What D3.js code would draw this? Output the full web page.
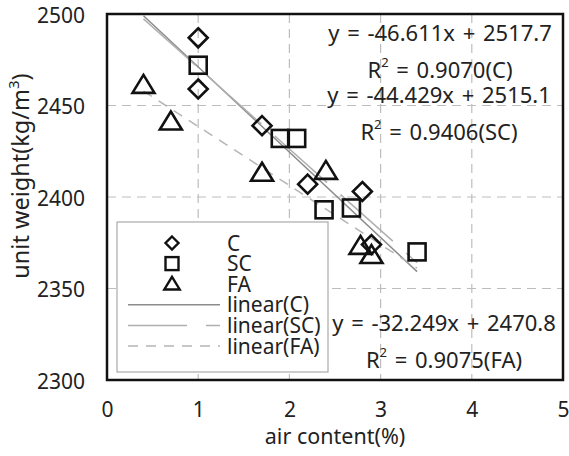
<!DOCTYPE html>
<html>
<head>
<meta charset="utf-8">
<script src="https://cdn.jsdelivr.net/npm/d3@7"></script>
<style>
  html, body { margin: 0; padding: 0; background: #fff; }
  svg text { font-family: "Noto Sans", "Open Sans", sans-serif; fill: #222; }
</style>
</head>
<body>
<svg id="chart" width="569" height="456"></svg>
<script>
// Air content (%) vs unit weight (kg/m3) for three mixes
const cAir  = [1.0, 1.0, 1.7, 2.2, 2.8, 2.9];
const cUW   = [2487, 2459, 2439, 2407, 2403, 2374];
const scAir = [1.0, 1.9, 2.08, 2.38, 2.68, 3.4];
const scUW  = [2472, 2432, 2432, 2393, 2394, 2370];
const faAir = [0.4, 0.7, 1.7, 2.4, 2.78, 2.9];
const faUW  = [2461, 2441, 2413, 2414, 2373, 2368];

// Linear fits: slope, intercept, R²
const fitC  = { slope: -46.611, intercept: 2517.7, r2: "0.9070", tag: "C" };
const fitSC = { slope: -44.429, intercept: 2515.1, r2: "0.9406", tag: "SC" };
const fitFA = { slope: -32.249, intercept: 2470.8, r2: "0.9075", tag: "FA" };
const fitRange = [0.4, 3.4];

const xTicks = [0, 1, 2, 3, 4, 5];
const yTicks = [2300, 2350, 2400, 2450, 2500];

const FONT = '"Noto Sans", "Open Sans", sans-serif';
const svg = d3.select("#chart");
const x = d3.scaleLinear().domain([0, 5]).range([107, 563]);
const y = d3.scaleLinear().domain([2300, 2500]).range([380, 14]);

// dashed grid
const grid = svg.append("g").attr("stroke", "#bdbdbd").attr("stroke-width", 1.2)
  .attr("stroke-dasharray", "9,6");
xTicks.slice(1, -1).forEach(t => grid.append("line")
  .attr("x1", x(t)).attr("x2", x(t)).attr("y1", y(2500)).attr("y2", y(2300)));
yTicks.slice(1, -1).forEach(t => grid.append("line")
  .attr("x1", x(0)).attr("x2", x(5)).attr("y1", y(t)).attr("y2", y(t)));

// axis labels via d3 axes (no tick marks)
const xAxis = svg.append("g").attr("transform", `translate(0,${y(2300)})`)
  .call(d3.axisBottom(x).tickValues(xTicks).tickSize(0).tickPadding(22).tickFormat(d3.format("d")));
const yAxis = svg.append("g").attr("transform", `translate(${x(0)},0)`)
  .call(d3.axisLeft(y).tickValues(yTicks).tickSize(0).tickPadding(22).tickFormat(d3.format("d")));
[xAxis, yAxis].forEach(a => {
  a.select(".domain").remove();
  a.selectAll("text").attr("font-size", 21).attr("fill", "#222").attr("font-family", FONT);
});
yAxis.selectAll("text").attr("dy", "0.40em");

svg.append("text").attr("x", 335).attr("y", 444).attr("text-anchor", "middle")
  .attr("font-size", 21.5).text("air content(%)");
const yt = svg.append("text").attr("transform", "translate(29,176) rotate(-90)")
  .attr("text-anchor", "middle").attr("font-size", 23.5);
yt.append("tspan").text("unit weight(kg/m");
yt.append("tspan").attr("font-size", 15).attr("dy", -10).text("3");
yt.append("tspan").attr("dy", 10).text(")");

// trend lines
const trend = [
  { fit: fitC,  stroke: "#8c8c8c", dash: null, lgDash: null },
  { fit: fitSC, stroke: "#b0b0b0", dash: "70,18", lgDash: "59,19" },
  { fit: fitFA, stroke: "#b5b5b5", dash: "10,8", lgDash: "10,8" }
];
const lineGen = d3.line().x(d => x(d[0])).y(d => y(d[1]));
trend.forEach(t => {
  const pts = fitRange.map(v => [v, t.fit.slope * v + t.fit.intercept]);
  svg.append("path").attr("d", lineGen(pts)).attr("fill", "none")
    .attr("stroke", t.stroke).attr("stroke-width", 1.5)
    .attr("stroke-dasharray", t.dash);
});

// hollow markers
function drawMarker(g, kind, cx, cy, s) {
  if (kind === "diamond") {
    g.append("path").attr("d", `M${cx},${cy - s}L${cx + s},${cy}L${cx},${cy + s}L${cx - s},${cy}Z`);
  } else if (kind === "square") {
    g.append("rect").attr("x", cx - s).attr("y", cy - s).attr("width", 2 * s).attr("height", 2 * s);
  } else {
    g.append("path").attr("d", `M${cx},${cy - s * 1.05}L${cx + s * 1.1},${cy + s * 0.75}L${cx - s * 1.1},${cy + s * 0.75}Z`);
  }
}
const series = [
  { kind: "diamond", xs: cAir, ys: cUW, s: 9.5 },
  { kind: "square", xs: scAir, ys: scUW, s: 8.5 },
  { kind: "triangle", xs: faAir, ys: faUW, s: 10 }
];
const mk = svg.append("g").attr("fill", "none").attr("stroke", "#111").attr("stroke-width", 2.6)
  .attr("stroke-linejoin", "miter");
series.forEach(sr => sr.xs.forEach((v, i) => drawMarker(mk, sr.kind, x(v), y(sr.ys[i]), sr.s)));

// plot frame
svg.append("rect").attr("x", x(0)).attr("y", y(2500)).attr("width", x(5) - x(0))
  .attr("height", y(2300) - y(2500)).attr("fill", "none").attr("stroke", "#111").attr("stroke-width", 2.5);

// legend
const lg = svg.append("g");
lg.append("rect").attr("x", 117).attr("y", 222).attr("width", 211).attr("height", 150)
  .attr("fill", "#fff").attr("stroke", "#aaa").attr("stroke-width", 1.2);
const rowY = i => 243 + i * 20.6;
const lgMk = lg.append("g").attr("fill", "none").attr("stroke", "#111").attr("stroke-width", 2.4);
[["diamond", "C", 6.5], ["square", "SC", 6.5], ["triangle", "FA", 7]].forEach((d, i) => {
  drawMarker(lgMk, d[0], 172, rowY(i), d[2]);
  lg.append("text").attr("x", 227).attr("y", rowY(i)).attr("dy", "0.36em")
    .attr("font-size", 21).text(d[1]);
});
trend.forEach((t, i) => {
  const r = rowY(3 + i);
  lg.append("line").attr("x1", 128).attr("x2", 220).attr("y1", r).attr("y2", r)
    .attr("stroke", t.stroke).attr("stroke-width", 1.5).attr("stroke-dasharray", t.lgDash);
  lg.append("text").attr("x", 227).attr("y", r).attr("dy", "0.36em")
    .attr("font-size", 21).text(`linear(${t.fit.tag})`);
});

// equation labels
const fmt = v => v.toFixed(3);
const eqs = [
  { fit: fitC,  cx: 440, ey: 33, ry: 70 },
  { fit: fitSC, cx: 439, ey: 95, ry: 132 },
  { fit: fitFA, cx: 444, ey: 323, ry: 360 }
];
eqs.forEach(e => {
  svg.append("text").attr("x", e.cx).attr("y", e.ey).attr("dy", "0.36em")
    .attr("text-anchor", "middle").attr("font-size", 22).attr("word-spacing", 2)
    .text(`y = ${fmt(e.fit.slope)}x + ${e.fit.intercept.toFixed(1)}`);
  const r = svg.append("text").attr("x", e.cx).attr("y", e.ry).attr("dy", "0.36em")
    .attr("text-anchor", "middle").attr("font-size", 22).attr("word-spacing", 2);
  r.append("tspan").text("R");
  r.append("tspan").attr("font-size", 13).attr("dy", -11).text("2");
  r.append("tspan").attr("dy", 11).text(` = ${e.fit.r2}(${e.fit.tag})`);
});
</script>
</body>
</html>
